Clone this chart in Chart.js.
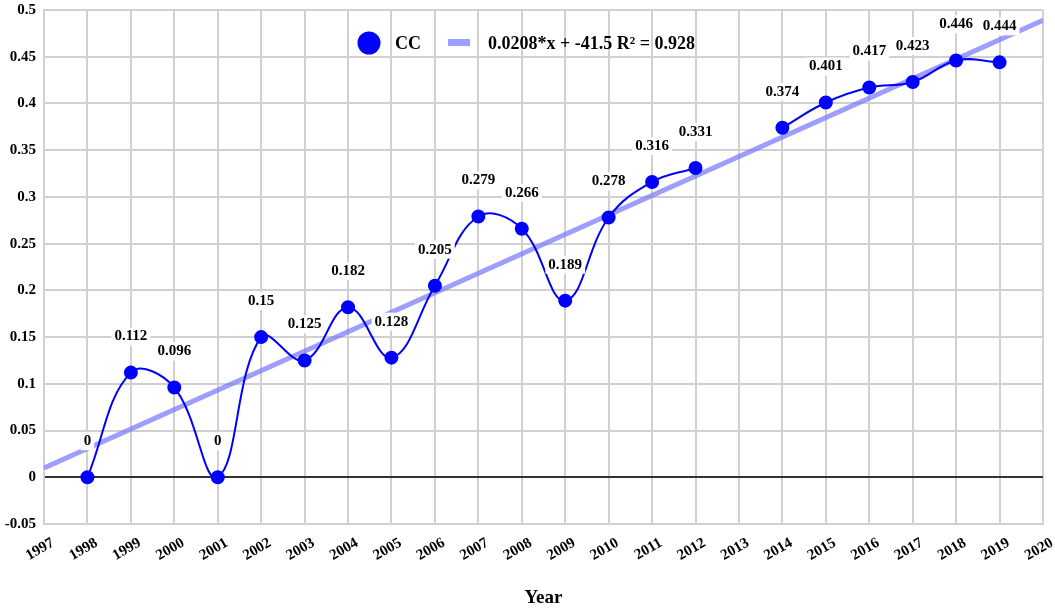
<!DOCTYPE html>
<html>
<head>
<meta charset="utf-8">
<script src="https://cdn.jsdelivr.net/npm/chart.js@4"></script>
<style>
  html, body { margin: 0; padding: 0; background: #fff; }
  #wrap { width: 1055px; height: 611px; }
</style>
</head>
<body>
<div id="wrap"><canvas id="chart"></canvas></div>
<script>
const years = [1998, 1999, 2000, 2001, 2002, 2003, 2004, 2005, 2006, 2007, 2008, 2009, 2010, 2011, 2012, 2013, 2014, 2015, 2016, 2017, 2018, 2019];
const ccValues = [0, 0.112, 0.096, 0, 0.15, 0.125, 0.182, 0.128, 0.205, 0.279, 0.266, 0.189, 0.278, 0.316, 0.331, null, 0.374, 0.401, 0.417, 0.423, 0.446, 0.444];
const trendYears = [1997, 2020];
const trendValues = [0.010, 0.489];
const trendLabel = '0.0208*x + -41.5 R² = 0.928';

const serif = '"Liberation Serif", "Times New Roman", serif';
const blue = '#0000ff';
const trendColor = 'rgba(120,120,255,0.72)';

// value labels over the points, white box behind
const pointLabels = {
    id: 'pointLabels',
    afterDatasetsDraw(chart) {
        const meta = chart.getDatasetMeta(0);
        const ctx = chart.ctx;
        ctx.save();
        ctx.font = 'bold 15px ' + serif;
        ctx.textAlign = 'center';
        ctx.textBaseline = 'middle';
        meta.data.forEach((pt, i) => {
            const v = ccValues[i];
            if (v === null) return;
            const txt = String(v);
            const w = ctx.measureText(txt).width;
            const x = pt.x, y = pt.y - 36;
            ctx.fillStyle = '#fff';
            ctx.fillRect(x - w / 2 - 3, y - 9, w + 6, 18);
            ctx.fillStyle = '#000';
            ctx.fillText(txt, x, y);
        });
        ctx.restore();
    }
};

// legend drawn inside the plot, along the top
const topLegend = {
    id: 'topLegend',
    afterDraw(chart) {
        const ctx = chart.ctx;
        const area = chart.chartArea;
        const y = area.top + 33;
        let x = area.left + 313;
        ctx.save();
        ctx.font = 'bold 18px ' + serif;
        ctx.textBaseline = 'middle';
        ctx.textAlign = 'left';
        ctx.fillStyle = blue;
        ctx.beginPath();
        ctx.arc(x + 12, y, 11.5, 0, Math.PI * 2);
        ctx.fill();
        x += 38;
        ctx.fillStyle = '#000';
        ctx.fillText(chart.data.datasets[0].label, x, y + 1);
        x += ctx.measureText(chart.data.datasets[0].label).width + 27;
        ctx.fillStyle = trendColor;
        ctx.fillRect(x, y - 4, 22, 7);
        x += 40;
        ctx.fillStyle = '#000';
        ctx.fillText(chart.data.datasets[1].label, x, y + 1);
        ctx.restore();
    }
};

new Chart(document.getElementById('chart'), {
    type: 'line',
    data: {
        datasets: [{
            label: 'CC',
            data: years.map((y, i) => ({ x: y, y: ccValues[i] })),
            borderColor: blue,
            backgroundColor: blue,
            borderWidth: 2,
            pointRadius: 6,
            pointHoverRadius: 6,
            tension: 0.4,
            spanGaps: false,
            order: 1
        }, {
            label: trendLabel,
            data: trendYears.map((y, i) => ({ x: y, y: trendValues[i] })),
            borderColor: trendColor,
            backgroundColor: trendColor,
            borderWidth: 5,
            pointRadius: 0,
            tension: 0,
            order: 2
        }]
    },
    options: {
        responsive: true,
        maintainAspectRatio: false,
        animation: false,
        layout: { padding: { left: 4, right: 12, top: 10, bottom: 0 } },
        plugins: {
            tooltip: { enabled: false },
            legend: { display: false }
        },
        scales: {
            x: {
                type: 'linear',
                min: 1997,
                max: 2020,
                ticks: {
                    stepSize: 1,
                    autoSkip: false,
                    maxRotation: 30,
                    minRotation: 30,
                    padding: 10,
                    labelOffset: 9,
                    color: '#000',
                    font: { family: serif, size: 15, weight: 'bold' },
                    callback: v => String(v)
                },
                grid: { color: '#d0d0d0', lineWidth: 2, drawTicks: false },
                border: { color: '#d0d0d0', width: 2 },
                title: {
                    display: true,
                    text: 'Year',
                    color: '#000',
                    font: { family: serif, size: 19, weight: 'bold' },
                    padding: { top: 26, bottom: 2 }
                },
                afterFit(scale) {
                    scale.height = 87;
                    scale.paddingLeft = 0;
                    scale.paddingRight = 0;
                }
            },
            y: {
                min: -0.05,
                max: 0.5,
                ticks: {
                    stepSize: 0.05,
                    color: '#000',
                    padding: 8,
                    font: { family: serif, size: 15, weight: 'bold' },
                    callback: v => String(Math.round(v * 100) / 100)
                },
                grid: {
                    drawTicks: false,
                    lineWidth: 2,
                    color: ctx => (Math.abs(ctx.tick.value) < 1e-9 ? '#333' : '#d0d0d0')
                },
                border: { color: '#d0d0d0', width: 2 },
                afterFit(scale) {
                    scale.width = 40;
                    scale.paddingTop = 0;
                    scale.paddingBottom = 0;
                }
            }
        }
    },
    plugins: [pointLabels, topLegend]
});
</script>
</body>
</html>
